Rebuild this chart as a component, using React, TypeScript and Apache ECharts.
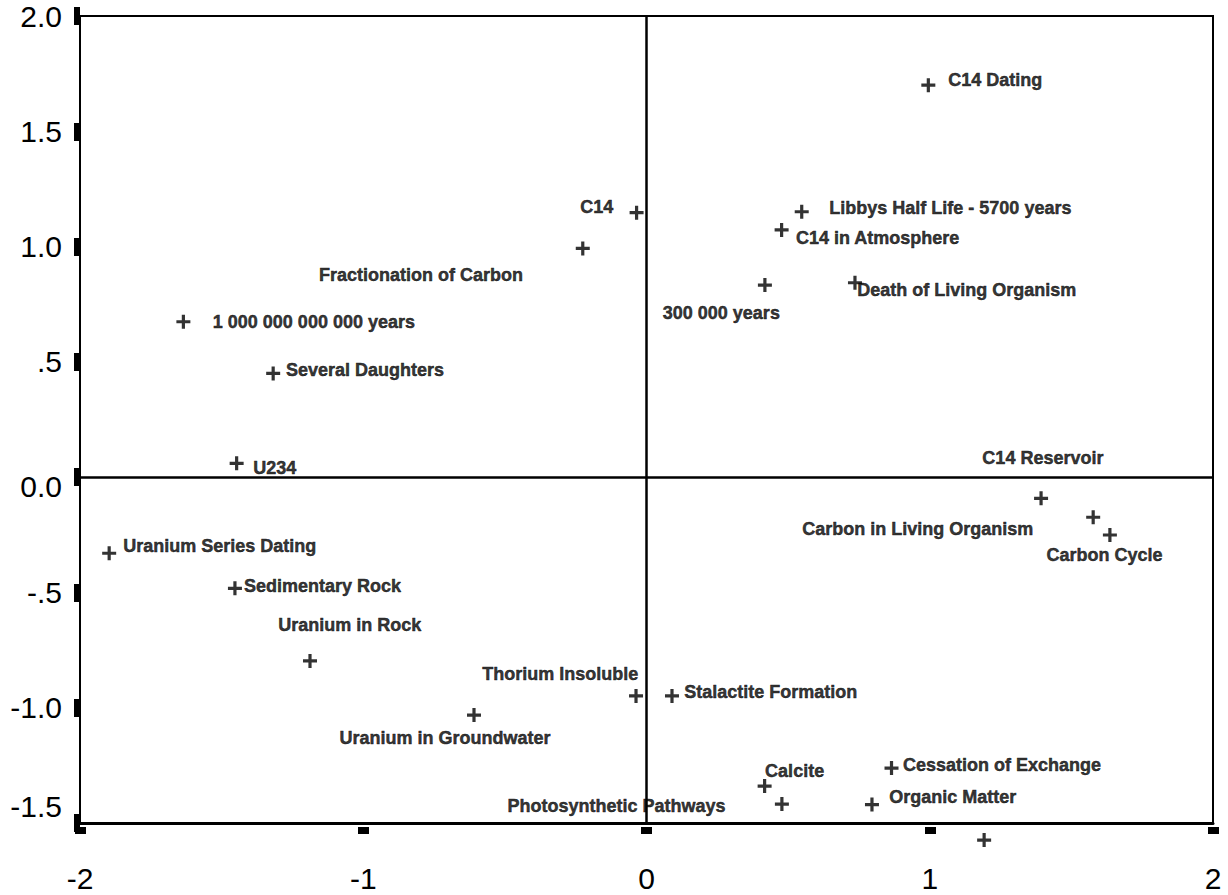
import React, { useEffect, useRef } from "react";
import * as echarts from "echarts";

const conceptNames = [
  "C14 Dating",
  "Libbys Half Life - 5700 years",
  "C14 in Atmosphere",
  "C14",
  "Fractionation of Carbon",
  "300 000 years",
  "Death of Living Organism",
  "1 000 000 000 000 years",
  "Several Daughters",
  "U234",
  "C14 Reservoir",
  "Carbon in Living Organism",
  "Carbon Cycle",
  "Uranium Series Dating",
  "Sedimentary Rock",
  "Uranium in Rock",
  "Thorium Insoluble",
  "Stalactite Formation",
  "Uranium in Groundwater",
  "Calcite",
  "Cessation of Exchange",
  "Photosynthetic Pathways",
  "Organic Matter",
  "",
];

const dimension1 = [
  0.995, 0.548, 0.477, -0.035, -0.225, 0.418, 0.736, -1.635, -1.318, -1.447,
  1.393, 1.577, 1.636, -1.897, -1.453, -1.188, -0.037, 0.09, -0.609, 0.417,
  0.865, 0.478, 0.796, 1.192,
];

const dimension2 = [
  1.7, 1.151, 1.072, 1.147, 0.992, 0.833, 0.843, 0.674, 0.45, 0.06, -0.092,
  -0.174, -0.251, -0.33, -0.482, -0.797, -0.949, -0.949, -1.032, -1.34,
  -1.262, -1.418, -1.42, -1.574,
];

const xTickLabels = ["-2", "-1", "0", "1", "2"];
const yTickLabels = ["-1.5", "-1.0", "-.5", "0.0", ".5", "1.0", "1.5", "2.0"];

// label placement (pixel offsets from the marker centre, text alignment)
const labelPlacement: [number, number, string][] = [
  [20, -5, "left"],
  [27.6, -3.4, "left"],
  [14.3, 8.3, "left"],
  [-23.4, -6, "right"],
  [-59.7, 26.7, "right"],
  [15, 28.3, "right"],
  [2.3, 7.3, "left"],
  [29.4, 0, "left"],
  [12.7, -3.3, "left"],
  [16.6, 5, "left"],
  [-58.7, -40, "left"],
  [-60, 12, "right"],
  [-63.3, 20, "left"],
  [14, -7.3, "left"],
  [9, -2.6, "left"],
  [-31.7, -36, "left"],
  [2.2, -21.6, "right"],
  [12.3, -4, "left"],
  [-134.5, 23, "left"],
  [0.5, -15, "left"],
  [11.5, -3, "left"],
  [-56.3, 2, "right"],
  [17.3, -7.8, "left"],
  [0, 0, "left"],
];

const PLUS =
  "path://M5.4,0H8.6V5.4H14V8.6H8.6V14H5.4V8.6H0V5.4H5.4Z";

const FONT = "'Liberation Sans', Arial, Helvetica, sans-serif";

export default function App() {
  const ref = useRef<HTMLDivElement>(null);

  useEffect(() => {
    if (!ref.current) return;
    const chart = echarts.init(ref.current, undefined, { renderer: "svg" });

    const data = conceptNames.map((name, i) => ({
      name,
      value: [dimension1[i], dimension2[i]],
      label: {
        show: name !== "",
        position: "inside",
        align: labelPlacement[i][2],
        verticalAlign: "middle",
        offset: [labelPlacement[i][0], labelPlacement[i][1]],
      },
    }));

    chart.setOption({
      animation: false,
      backgroundColor: "#fff",
      grid: {
        left: 80,
        right: 15,
        top: 16,
        bottom: 72,
        show: true,
        borderColor: "#000",
        borderWidth: 2,
        backgroundColor: "transparent",
        containLabel: false,
        outerBoundsMode: "none",
      },
      xAxis: [
        {
          type: "value",
          min: -2,
          max: 2,
          interval: 1,
          splitLine: { show: false },
          axisLine: { show: true, onZero: false, lineStyle: { color: "#000", width: 3 } },
          axisTick: { show: false },
          axisLabel: {
            margin: 40,
            color: "#000",
            fontSize: 30,
            fontFamily: FONT,
            formatter: (v: number) => xTickLabels[Math.round(v + 2)] ?? "",
          },
        },
        {
          type: "value",
          min: -2,
          max: 2,
          interval: 1,
          position: "bottom",
          offset: 4,
          splitLine: { show: false },
          axisLine: { show: false, onZero: false },
          axisTick: { show: true, length: 7, lineStyle: { color: "#000", width: 11 } },
          axisLabel: { show: false },
        },
      ],
      yAxis: {
        type: "value",
        min: -1.5,
        max: 2,
        interval: 0.5,
        splitLine: { show: false },
        axisLine: { show: true, onZero: false, lineStyle: { color: "#000", width: 2 } },
        axisTick: { show: true, length: 6, lineStyle: { color: "#000", width: 18 } },
        axisLabel: {
          margin: 18,
          color: "#000",
          fontSize: 30,
          fontFamily: FONT,
          formatter: (v: number) => {
            const idx = Math.round((v + 1.5) / 0.5);
            const t = yTickLabels[idx] ?? "";
            if (idx === 0) return "{low|" + t + "}";
            if (idx === 3) return "{zero|" + t + "}";
            return t;
          },
          rich: {
            low: { fontSize: 30, fontFamily: FONT, color: "#000", padding: [0, 0, 34, 0] },
            zero: { fontSize: 30, fontFamily: FONT, color: "#000", padding: [18, 0, 0, 0] },
          },
        },
      },
      series: [
        {
          type: "scatter",
          xAxisIndex: 0,
          clip: false,
          symbol: PLUS,
          symbolSize: 14,
          itemStyle: { color: "#000" },
          label: {
            color: "#000",
            fontSize: 18,
            fontWeight: "bold",
            fontFamily: FONT,
            textBorderColor: "#000",
            textBorderWidth: 0.5,
            formatter: (p: any) => p.name,
          },
          emphasis: { disabled: true },
          data,
          markLine: {
            silent: true,
            symbol: "none",
            label: { show: false },
            lineStyle: { color: "#000", width: 2.5, type: "solid" },
            data: [{ xAxis: 0 }, { yAxis: 0 }],
          },
        },
      ],
    });

    return () => chart.dispose();
  }, []);

  return (
    <div
      ref={ref}
      style={{
        position: "absolute",
        left: 0,
        top: 0,
        width: 1228,
        height: 895,
        background: "#fff",
      }}
    />
  );
}
